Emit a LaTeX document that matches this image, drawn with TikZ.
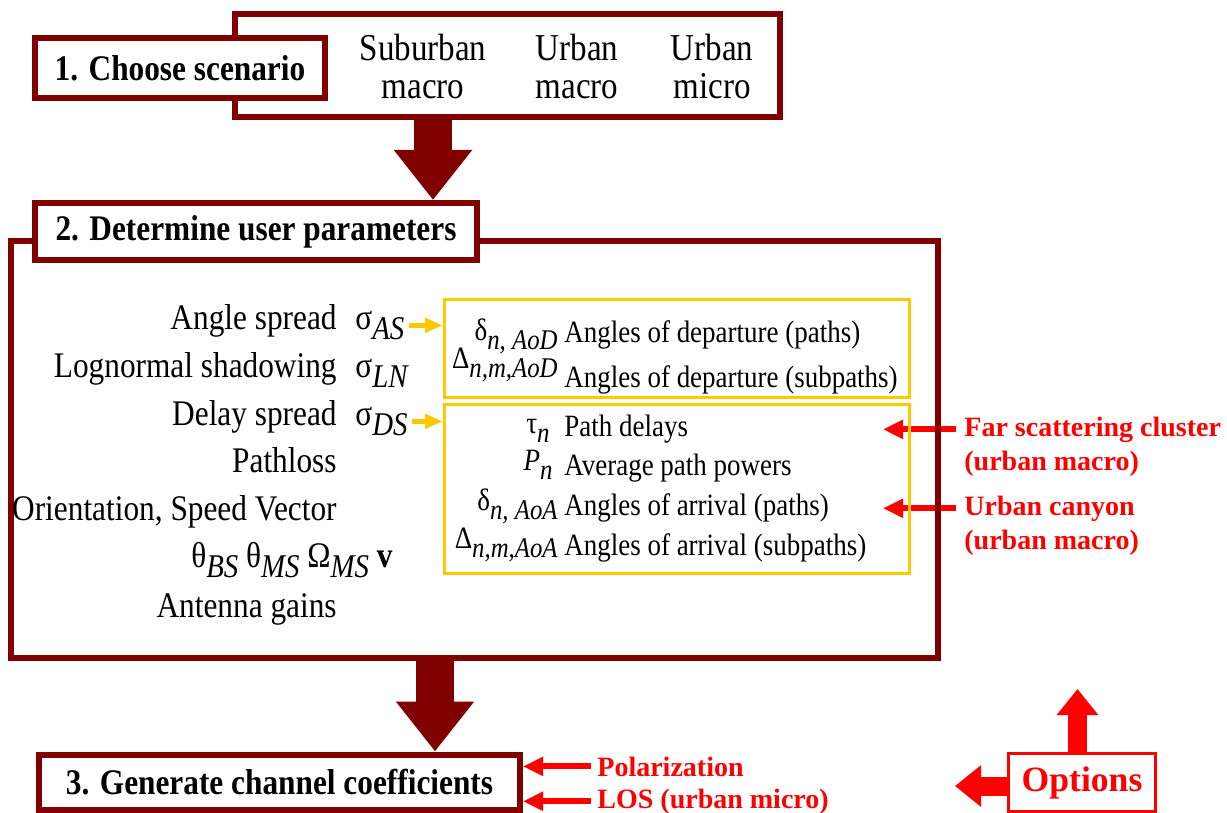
\documentclass[tikz,border=0pt]{standalone}
\usepackage{fontspec}
\setmainfont{Liberation Serif}[FakeStretch=0.87]
\newfontfamily\notefont{Liberation Serif}
\usepackage{graphicx}
\usetikzlibrary{arrows.meta,backgrounds}
\definecolor{darkred}{RGB}{128,0,0}
\definecolor{boxyellow}{RGB}{255,200,0}
\newcommand{\sub}[1]{\raisebox{-0.3em}{\scalebox{0.92}{\itshape #1}}}

\tikzset{
	stage/.style={draw=darkred,line width=3pt,fill=white,inner sep=0pt},
	stagetitle/.style={stage,font=\bfseries\fontsize{18}{20}\selectfont},
	scenlabel/.style={align=center,inner sep=0pt,font=\fontsize{19}{19}\selectfont},
	paramgroup/.style={draw=boxyellow,line width=1.5pt,inner sep=0pt},
	param/.style={anchor=base east,inner sep=0pt,font=\fontsize{18}{20}\selectfont},
	sym/.style={anchor=base west,inner sep=0pt,font=\fontsize{18}{20}\selectfont},
	result/.style={anchor=base west,inner sep=0pt,font=\fontsize{15.5}{18}\selectfont},
	resultsym/.style={anchor=base east,inner sep=0pt,font=\fontsize{15.5}{18}\selectfont},
	note/.style={anchor=base west,inner sep=0pt,text=red,font=\notefont\bfseries\fontsize{14}{16}\selectfont},
	bigarrow/.style={darkred,line width=19pt,-{Triangle[length=25pt,width=37.5pt]}},
	feed/.style={boxyellow,line width=2.5pt,-{Triangle[length=9pt,width=7pt]}},
	extra/.style={red,line width=3pt,-{Triangle[length=10pt,width=9pt]}},
	optarrow/.style={red,line width=9.5pt,-{Triangle[length=13pt,width=20pt]}}
}

\begin{document}
\begin{tikzpicture}[x=0.5pt,y=-0.5pt]
	\useasboundingbox (0,0) rectangle (1227,813);
	% step 1
	\node[stage,minimum width=272.5pt,minimum height=51.5pt] (scen) at (507.5,65.5) {};
	\node[stagetitle,minimum width=145pt,minimum height=30pt] (choose) at (180,68) {1. Choose scenario};
	\node[scenlabel] (suburban) at (423,67) {Suburban\\macro};
	\node[scenlabel] (urbmacro) at (577,67) {Urban\\macro};
	\node[scenlabel] (urbmicro) at (712,67) {Urban\\micro};
	% step 2
	\node[stage,fill=none,minimum width=463.5pt,minimum height=208.5pt] (params) at (474.5,449.5) {};
	\node[stagetitle,minimum width=221pt,minimum height=28.5pt] (determine) at (256,231.5) {2. Determine user parameters};
	\node[param] (angle) at (337,329) {Angle spread};
	\node[sym] (sas) at (355,329) {σ\sub{AS}};
	\node[param] (shadow) at (337,377) {Lognormal shadowing};
	\node[sym] (sln) at (355,377) {σ\sub{LN}};
	\node[param] (delay) at (337,425) {Delay spread};
	\node[sym] (sds) at (355,425) {σ\sub{DS}};
	\node[param] (pathloss) at (337,472) {Pathloss};
	\node[param] (orient) at (337,520) {Orientation, Speed Vector};
	\node[param] (orientsym) at (393,567) {θ\sub{BS} θ\sub{MS} Ω\sub{MS} \textbf{v}};
	\node[param] (gains) at (337,617) {Antenna gains};
	\node[paramgroup,minimum width=232.5pt,minimum height=49pt] (departure) at (677,348) {};
	\node[paramgroup,minimum width=232.5pt,minimum height=84.5pt] (arrival) at (677,489) {};
	\node[resultsym] (dep1s) at (558,340) {δ\sub{n, AoD}};
	\node[result] (dep1) at (564,342) {Angles of departure (paths)};
	\node[resultsym] (dep2s) at (558,368) {Δ\sub{n,m,AoD}};
	\node[result] (dep2) at (564,387) {Angles of departure (subpaths)};
	\node[resultsym] (arr1s) at (550,433) {τ\sub{n}};
	\node[result] (arr1) at (564,436) {Path delays};
	\node[resultsym] (arr2s) at (553,470) {\textit{P}\sub{n}};
	\node[result] (arr2) at (564,475) {Average path powers};
	\node[resultsym] (arr3s) at (558,510) {δ\sub{n, AoA}};
	\node[result] (arr3) at (564,515) {Angles of arrival (paths)};
	\node[resultsym] (arr4s) at (558,548) {Δ\sub{n,m,AoA}};
	\node[result] (arr4) at (564,555) {Angles of arrival (subpaths)};
	\draw[feed] ([xshift=2pt]sas.east) -- (sas.east -| departure.west);
	\draw[feed] ([xshift=2pt]sds.east) -- (sds.east -| arrival.west);
	% step 3
	\node[stagetitle,minimum width=240.5pt,minimum height=27.5pt] (generate) at (279.5,782) {3. Generate channel coefficients};
	\coordinate (flow1) at (433,0);
	\coordinate (flow2) at (435,0);
	\draw[bigarrow] (scen.south -| flow1) -- (determine.north -| flow1);
	\draw[bigarrow] (params.south -| flow2) -- (generate.north -| flow2);
	% options
	\node[note] (far) at (964,436) {Far scattering cluster};
	\node[note] (farsub) at (964,470) {(urban macro)};
	\node[note] (canyon) at (964,515) {Urban canyon};
	\node[note] (canyonsub) at (964,549) {(urban macro)};
	\node[note] (polar) at (597,776) {Polarization};
	\node[note] (los) at (597,808) {LOS (urban micro)};
	\coordinate (farend) at (883,0);
	\begin{scope}[on background layer]
		\draw[extra] ([xshift=-4pt]far.west) -- (far.west -| farend);
		\draw[extra] ([xshift=-4pt]canyon.west) -- (canyon.west -| farend);
	\end{scope}
	\draw[extra] ([xshift=-3pt]polar.west) -- (polar.west -| generate.east);
	\draw[extra] ([xshift=-3pt]los.west) -- (los.west -| generate.east);
	\node[draw=red,line width=1.5pt,inner sep=0pt,minimum width=73.5pt,minimum height=29pt,text=red,
		font=\notefont\bfseries\fontsize{17.8}{20}\selectfont] (options) at (1082,782.5) {Options};
	\coordinate (optup) at (1077.5,689);
	\coordinate (optleft) at (955,786);
	\draw[optarrow] (options.north -| optup) -- (optup);
	\draw[optarrow] (options.west |- optleft) -- (optleft);
\end{tikzpicture}
\end{document}
